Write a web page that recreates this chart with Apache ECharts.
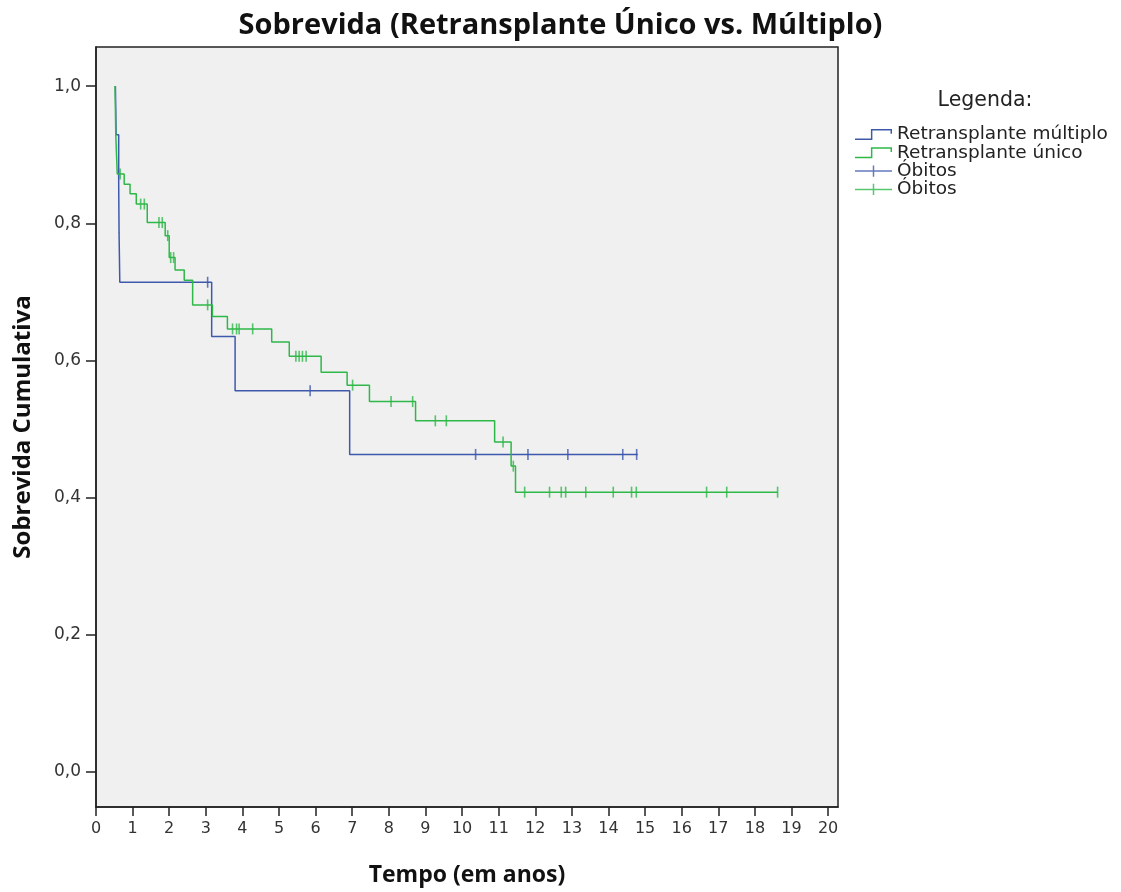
<!DOCTYPE html>
<html>
<head>
<meta charset="utf-8">
<title>Sobrevida (Retransplante Único vs. Múltiplo)</title>
<script src="https://cdn.jsdelivr.net/npm/echarts@6.0.0/dist/echarts.min.js"></script>
<style>
  html, body { margin: 0; padding: 0; background: #fff; }
  #chart { width: 1121px; height: 892px; }
</style>
</head>
<body>
<div id="chart"></div>
<script>
// ==========================================
// DATA
// ==========================================
// Kaplan-Meier steps: [tempo em anos, sobrevida cumulativa]
const multiploSteps = [
  [0.53, 1.0], [0.55, 0.929], [0.62, 0.857], [0.63, 0.786], [0.65, 0.714],
  [3.16, 0.635], [3.80, 0.556], [6.93, 0.463], [14.8, 0.463]
];
const unicoSteps = [
  [0.52, 1.0], [0.54, 0.93], [0.56, 0.90], [0.58, 0.872], [0.77, 0.857],
  [0.93, 0.843], [1.10, 0.828], [1.40, 0.801], [1.89, 0.782], [2.00, 0.750],
  [2.16, 0.732], [2.41, 0.717], [2.64, 0.681], [3.18, 0.664], [3.59, 0.646],
  [4.80, 0.627], [5.28, 0.606], [6.15, 0.583], [6.86, 0.564], [7.47, 0.540],
  [8.73, 0.512], [10.89, 0.481], [11.34, 0.446], [11.46, 0.408], [18.62, 0.408]
];
// censored observations (times only)
const multiploCensor = [3.05, 5.85, 10.37, 11.80, 12.89, 14.39, 14.77];
const unicoCensor = [
  0.66, 1.22, 1.32, 1.72, 1.81, 1.96, 2.04, 2.12, 3.05, 3.73, 3.84, 3.91,
  4.28, 5.46, 5.55, 5.64, 5.74, 7.01, 8.06, 8.65, 9.27, 9.57, 11.12, 11.40,
  11.71, 12.39, 12.71, 12.83, 13.38, 14.13, 14.63, 14.76, 16.68, 17.23, 18.62
];
const xTicks = [0,1,2,3,4,5,6,7,8,9,10,11,12,13,14,15,16,17,18,19,20];
const yTicks = [0, 0.2, 0.4, 0.6, 0.8, 1.0];

const BLUE = '#3E58AC';
const GREEN = '#2EB848';
const FONT = '"DejaVu Sans", "Open Sans", sans-serif';
const BOLD_FONT = '"Open Sans", "DejaVu Sans", sans-serif';

// survival value of a step curve at time t
function survivalAt(steps, t) {
  let s = steps[0][1];
  steps.forEach(p => { if (p[0] <= t) s = p[1]; });
  return s;
}

// legend icons: step line and "+" mark, as thin filled outlines
const stepIcon = 'path://M0,10.2 L17.2,10.2 L17.2,0 L40,0 L40,5 L38.4,5 L38.4,1.6 L18.8,1.6 L18.8,11.8 L0,11.8 Z';
const plusIcon = 'path://M0,5.2 L19.2,5.2 L19.2,0 L20.8,0 L20.8,5.2 L40,5.2 L40,6.8 L20.8,6.8 L20.8,12 L19.2,12 L19.2,6.8 L0,6.8 Z';

const chart = echarts.init(document.getElementById('chart'), null, { renderer: 'canvas' });

const option = {
  animation: false,
  backgroundColor: '#fff',
  title: {
    text: 'Sobrevida (Retransplante Único vs. Múltiplo)',
    left: 'center',
    top: 6,
    textStyle: { fontFamily: BOLD_FONT, fontSize: 29, fontWeight: 'bold', color: '#111' }
  },
  graphic: [{
    type: 'text',
    x: 985,
    y: 101,
    style: {
      text: 'Legenda:', fontFamily: FONT, fontSize: 20.5, fill: '#222',
      align: 'center', verticalAlign: 'middle'
    }
  }],
  legend: {
    orient: 'vertical',
    left: 855,
    top: 125,
    padding: 0,
    itemWidth: 37,
    itemHeight: 12,
    itemGap: -0.7,
    itemStyle: { borderWidth: 0 },
    textStyle: { fontFamily: FONT, fontSize: 18.5, lineHeight: 18.2, color: '#222' },
    formatter: name => name.startsWith('Óbitos') ? 'Óbitos' : name,
    data: [
      { name: 'Retransplante múltiplo', icon: stepIcon, itemStyle: { color: BLUE } },
      { name: 'Retransplante único', icon: stepIcon, itemStyle: { color: GREEN } },
      { name: 'Óbitos (múltiplo)', icon: plusIcon, itemStyle: { color: BLUE } },
      { name: 'Óbitos (único)', icon: plusIcon, itemStyle: { color: GREEN } }
    ]
  },
  grid: {
    left: 96, right: 283, top: 47, bottom: 84,
    show: true,
    backgroundColor: '#F0F0F0',
    borderColor: '#222',
    borderWidth: 1.5
  },
  xAxis: {
    type: 'value',
    min: 0,
    max: 20.27,
    name: 'Tempo (em anos)',
    nameLocation: 'middle',
    nameGap: 57,
    nameTextStyle: { fontFamily: BOLD_FONT, fontSize: 23, fontWeight: 'bold', color: '#111' },
    axisLine: { show: true, onZero: false, lineStyle: { color: '#222', width: 1.5 } },
    axisTick: { show: true, length: 9, customValues: xTicks, lineStyle: { color: '#222', width: 1.5 } },
    axisLabel: {
      customValues: xTicks,
      margin: 14,
      fontFamily: FONT, fontSize: 16, color: '#333'
    },
    splitLine: { show: false }
  },
  yAxis: {
    type: 'value',
    min: -0.051,
    max: 1.057,
    name: 'Sobrevida Cumulativa',
    nameLocation: 'middle',
    nameGap: 61,
    nameRotate: 90,
    nameTextStyle: { fontFamily: BOLD_FONT, fontSize: 24, fontWeight: 'bold', color: '#111' },
    axisLine: { show: true, onZero: false, lineStyle: { color: '#222', width: 1.5 } },
    axisTick: { show: true, length: 10, customValues: yTicks, lineStyle: { color: '#222', width: 1.5 } },
    axisLabel: {
      customValues: yTicks,
      margin: 15,
      fontFamily: FONT, fontSize: 17, color: '#333',
      formatter: v => v.toFixed(1).replace('.', ',')
    },
    splitLine: { show: false }
  },
  series: [
    {
      name: 'Retransplante múltiplo',
      type: 'line',
      step: 'end',
      color: BLUE,
      symbol: 'none',
      lineStyle: { color: BLUE, width: 1.5 },
      data: multiploSteps
    },
    {
      name: 'Retransplante único',
      type: 'line',
      step: 'end',
      color: GREEN,
      symbol: 'none',
      lineStyle: { color: GREEN, width: 1.5 },
      data: unicoSteps
    },
    {
      name: 'Óbitos (múltiplo)',
      type: 'scatter',
      color: BLUE,
      symbol: 'rect',
      symbolSize: [1.6, 11],
      data: multiploCensor.map(t => [t, survivalAt(multiploSteps, t)])
    },
    {
      name: 'Óbitos (único)',
      type: 'scatter',
      color: GREEN,
      symbol: 'rect',
      symbolSize: [1.6, 11],
      data: unicoCensor.map(t => [t, survivalAt(unicoSteps, t)])
    }
  ]
};

chart.setOption(option);

window.addEventListener('resize', () => {
  chart.resize();
});
</script>
</body>
</html>
